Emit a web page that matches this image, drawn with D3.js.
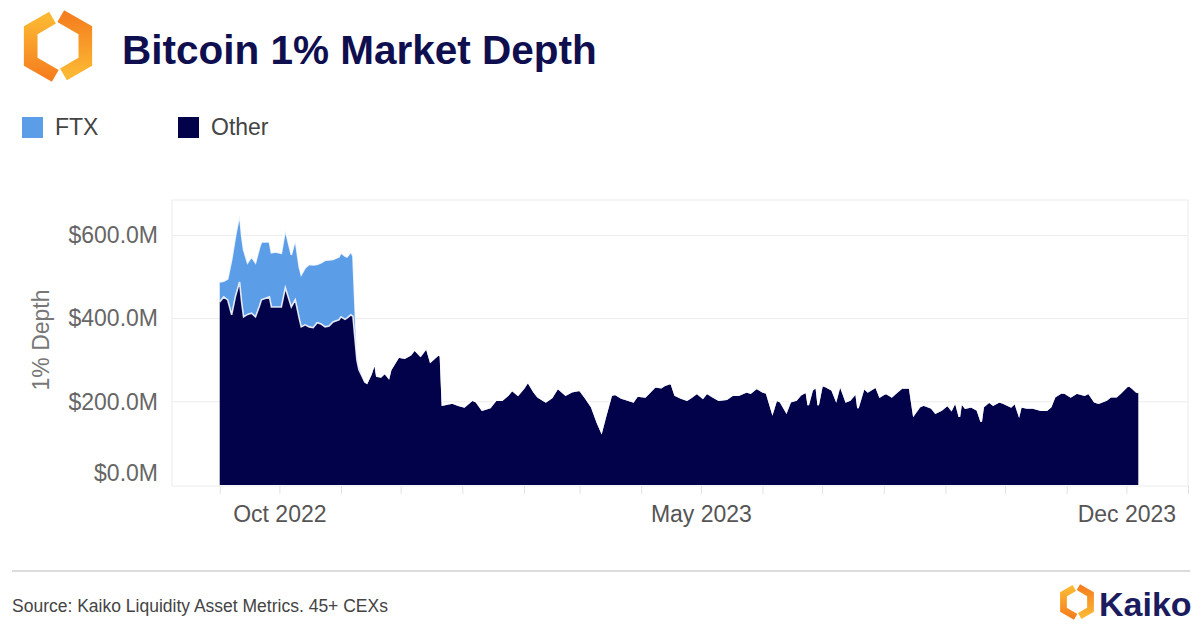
<!DOCTYPE html>
<html>
<head>
<meta charset="utf-8">
<script src="https://cdn.jsdelivr.net/npm/d3@7"></script>
<style>
  body { margin: 0; background: #fff; }
  svg { display: block; font-family: "Liberation Sans", Arial, sans-serif; }
</style>
</head>
<body>
<svg id="chart" width="1202" height="626"></svg>
<script>
// values in $M
const dates = [
  "2022-09-01","2022-09-03","2022-09-05","2022-09-07","2022-09-09","2022-09-11","2022-09-12","2022-09-13",
  "2022-09-15","2022-09-17","2022-09-19","2022-09-21","2022-09-22","2022-09-26","2022-09-27","2022-09-29",
  "2022-10-02","2022-10-04","2022-10-07","2022-10-09","2022-10-11","2022-10-12","2022-10-14","2022-10-16",
  "2022-10-18","2022-10-20","2022-10-22","2022-10-24","2022-10-26","2022-10-28","2022-10-31","2022-11-01",
  "2022-11-03","2022-11-04","2022-11-06","2022-11-07","2022-11-09","2022-11-10","2022-11-13","2022-11-14",
  "2022-11-16","2022-11-18","2022-11-19","2022-11-21","2022-11-23","2022-11-25",
  "2022-11-26","2022-11-30","2022-12-03","2022-12-06","2022-12-08","2022-12-11","2022-12-14","2022-12-16",
  "2022-12-20","2022-12-21","2022-12-22","2022-12-27","2022-12-30","2023-01-02","2023-01-06","2023-01-08",
  "2023-01-11","2023-01-15","2023-01-18","2023-01-21","2023-01-24","2023-01-26","2023-01-29","2023-02-01",
  "2023-02-03","2023-02-06","2023-02-08","2023-02-12","2023-02-15","2023-02-18","2023-02-22","2023-02-25",
  "2023-03-01","2023-03-04","2023-03-07","2023-03-10","2023-03-12","2023-03-14","2023-03-17","2023-03-19",
  "2023-03-22","2023-03-24","2023-03-28","2023-03-30","2023-04-03","2023-04-05","2023-04-08","2023-04-11",
  "2023-04-13","2023-04-16","2023-04-18","2023-04-21","2023-04-24","2023-04-26","2023-04-29","2023-05-02",
  "2023-05-04","2023-05-07","2023-05-10","2023-05-14","2023-05-17","2023-05-20","2023-05-24","2023-05-26",
  "2023-05-29","2023-06-01","2023-06-03","2023-06-06","2023-06-08","2023-06-10","2023-06-13","2023-06-15",
  "2023-06-18","2023-06-20","2023-06-23","2023-06-24","2023-06-26","2023-06-28","2023-06-29","2023-07-01",
  "2023-07-03","2023-07-06","2023-07-08","2023-07-10","2023-07-13","2023-07-15","2023-07-18","2023-07-19",
  "2023-07-22","2023-07-24","2023-07-28","2023-07-30","2023-08-02","2023-08-05","2023-08-07","2023-08-10",
  "2023-08-14","2023-08-15","2023-08-16","2023-08-19","2023-08-21","2023-08-25","2023-08-27","2023-08-30",
  "2023-09-02","2023-09-04","2023-09-06","2023-09-08","2023-09-09","2023-09-11","2023-09-14","2023-09-17",
  "2023-09-19","2023-09-20","2023-09-23","2023-09-25","2023-09-28","2023-09-30","2023-10-04","2023-10-06",
  "2023-10-08","2023-10-09","2023-10-12","2023-10-15","2023-10-19","2023-10-22","2023-10-24","2023-10-26",
  "2023-10-29","2023-10-31","2023-11-03","2023-11-06","2023-11-10","2023-11-12","2023-11-15","2023-11-17",
  "2023-11-21","2023-11-23","2023-11-26","2023-11-28","2023-12-02","2023-12-04","2023-12-06","2023-12-07"
];

const other = [
  440,452,445,409,455,488,440,404, 410,413,404,430,445,452,428,428,
  428,474,428,445,400,380,385,380, 378,390,387,380,382,392,397,404,
  398,401,409,405,300,277,248,245, 265,293,262,260,269,257,
  277,308,305,313,325,310,329,296,
  313,310,192,197,192,188,204,200, 180,186,204,204,216,228,216,233,
  248,224,212,200,210,233,216,224, 228,209,188,149,127,164,216,218,
  209,206,200,214,212,221,236,234, 240,245,216,209,204,210,221,209,
  221,212,204,206,216,216,224,221, 233,224,221,173,204,200,175,200,
  204,216,224,192,228,236,192,240, 236,228,204,240,200,204,221,185,
  233,224,236,212,221,212,221,233, 233,200,168,188,192,185,173,180,
  192,180,200,164,197,185,188,180, 152,188,200,192,200,197,188,197,
  168,188,185,185,180,180,188,212, 221,221,212,221,216,221,200,197,
  204,212,212,221,240,233,224,222
];

// FTX only until the collapse; zero afterwards
const ftx = [
  48,38,50,132,145,161,160,161, 124,135,130,140,139,132,130,132,
  129,139,125,144,124,125,137,150, 151,140,147,160,159,150,151,154,
  152,147,151,145,20,10
];

const yTicks = [0, 200, 400, 600];
const xLabels = ["2022-10-01", "2023-05-01", "2023-12-01"];
const keys = ["other", "ftx"];
const colors = { ftx: "#5c9de7", other: "#02024a" };
const legendNames = { ftx: "FTX", other: "Other" };

const parse = d3.timeParse("%Y-%m-%d");
const table = dates.map((d, i) => ({ date: parse(d), other: other[i], ftx: ftx[i] || 0 }));

const svg = d3.select("#chart");

const x = d3.scaleTime()
  .domain([parse("2022-08-08"), parse("2024-01-01")])
  .range([172, 1188]);
const y = d3.scaleLinear().domain([0, 685]).range([485, 200]);

// plot frame + grid
svg.append("rect")
  .attr("x", 172).attr("y", 200).attr("width", 1016).attr("height", 286)
  .attr("fill", "none").attr("stroke", "#ececec");

svg.append("g")
  .selectAll("line")
  .data(yTicks.filter(d => d > 0))
  .enter().append("line")
  .attr("x1", 172).attr("x2", 1188)
  .attr("y1", d => y(d)).attr("y2", d => y(d))
  .attr("stroke", "#ececec");

// stacked areas
const series = d3.stack().keys(keys)(table);
const area = d3.area()
  .x(d => x(d.data.date))
  .y0(d => y(d[0]))
  .y1(d => y(d[1]));
const topLine = d3.line()
  .x(d => x(d.data.date))
  .y(d => y(d[1]));

svg.append("g")
  .selectAll("path")
  .data(series.slice().reverse())
  .enter().append("path")
  .attr("d", area)
  .attr("fill", d => colors[d.key]);

svg.append("g")
  .selectAll("path")
  .data(series)
  .enter().append("path")
  .attr("d", topLine)
  .attr("fill", "none")
  .attr("stroke", "#fff")
  .attr("stroke-opacity", 0.85)
  .attr("stroke-width", 1.6);

// y axis
const yAxis = svg.append("g")
  .attr("transform", "translate(172,0)")
  .call(d3.axisLeft(y).tickValues(yTicks).tickSize(0).tickPadding(14)
    .tickFormat(d => "$" + d.toFixed(1) + "M"));
yAxis.select(".domain").remove();
yAxis.selectAll("text")
  .attr("font-size", 23).attr("fill", "#666")
  .attr("font-family", "'Liberation Sans', Arial, sans-serif")
  .filter(d => d === 0).attr("dy", "-0.18em");

svg.append("text")
  .attr("transform", "translate(49,340) rotate(-90)")
  .attr("text-anchor", "middle")
  .attr("font-size", 23).attr("fill", "#777")
  .text("1% Depth");

// x axis: monthly ticks and three labels
const xTicks = svg.append("g")
  .attr("transform", "translate(0,486)")
  .call(d3.axisBottom(x).ticks(d3.timeMonth.every(1)).tickSize(8).tickFormat(""));
xTicks.select(".domain").remove();
xTicks.selectAll("line").attr("stroke", "#e2e2e2");

const xAxis = svg.append("g")
  .attr("transform", "translate(0,486)")
  .call(d3.axisBottom(x).tickValues(xLabels.map(parse)).tickSize(0).tickPadding(20)
    .tickFormat(d3.timeFormat("%b %Y")));
xAxis.select(".domain").remove();
xAxis.selectAll("text")
  .attr("font-size", 23).attr("fill", "#555")
  .attr("font-family", "'Liberation Sans', Arial, sans-serif");

// header
function drawMark(g, s) {
  const r = 30 * s, w = 26 * s;
  const defs = svg.select("defs").empty() ? svg.append("defs") : svg.select("defs");
  const id = "g" + Math.round(s * 100);
  const gl = defs.append("linearGradient").attr("id", id + "l")
    .attr("x1", 0).attr("y1", 0).attr("x2", 0).attr("y2", 1);
  gl.append("stop").attr("offset", "0%").attr("stop-color", "#fcb833");
  gl.append("stop").attr("offset", "100%").attr("stop-color", "#f57f1f");
  const gr = defs.append("linearGradient").attr("id", id + "r")
    .attr("x1", 0).attr("y1", 0).attr("x2", 0).attr("y2", 1);
  gr.append("stop").attr("offset", "0%").attr("stop-color", "#f57f1f");
  gr.append("stop").attr("offset", "100%").attr("stop-color", "#fcb833");
  g.append("path")
    .attr("d", `M${-0.2 * w},${-r + 0.1 * r} L${-w},${-r / 2} L${-w},${r / 2} L${-0.1 * w},${r - 0.05 * r}`)
    .attr("fill", "none").attr("stroke", `url(#${id}l)`)
    .attr("stroke-width", 13 * s).attr("stroke-linejoin", "miter");
  g.append("path")
    .attr("d", `M${0.1 * w},${-r + 0.05 * r} L${w},${-r / 2} L${w},${r / 2} L${0.2 * w},${r - 0.1 * r}`)
    .attr("fill", "none").attr("stroke", `url(#${id}r)`)
    .attr("stroke-width", 13 * s).attr("stroke-linejoin", "miter");
}

drawMark(svg.append("g").attr("transform", "translate(58,46)"), 1.05);

svg.append("text")
  .attr("x", 122).attr("y", 64)
  .attr("font-size", 40.5).attr("font-weight", "bold").attr("fill", "#0f0f4f")
  .text("Bitcoin 1% Market Depth");

// legend
const legend = svg.append("g")
  .selectAll("g")
  .data(["ftx", "other"])
  .enter().append("g")
  .attr("transform", (d, i) => `translate(${22 + i * 156},117)`);
legend.append("rect")
  .attr("width", 21).attr("height", 21)
  .attr("fill", d => colors[d]);
legend.append("text")
  .attr("x", 33).attr("y", 18)
  .attr("font-size", 23).attr("fill", "#444")
  .text(d => legendNames[d]);

// footer
svg.append("line")
  .attr("x1", 12).attr("x2", 1190).attr("y1", 571).attr("y2", 571)
  .attr("stroke", "#cfcfcf").attr("stroke-width", 1.5);

svg.append("text")
  .attr("x", 12).attr("y", 612)
  .attr("font-size", 17.5).attr("fill", "#444")
  .text("Source: Kaiko Liquidity Asset Metrics. 45+ CEXs");

drawMark(svg.append("g").attr("transform", "translate(1077,602)"), 0.52);

svg.append("text")
  .attr("x", 1099).attr("y", 616)
  .attr("font-size", 34).attr("font-weight", "bold").attr("fill", "#1b1b5e")
  .text("Kaiko");
</script>
</body>
</html>
